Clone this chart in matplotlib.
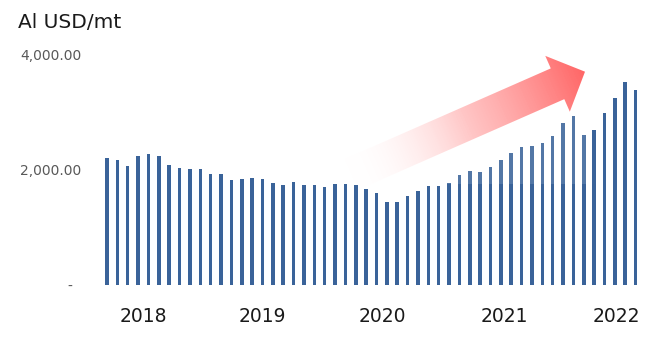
import numpy as np
import matplotlib
matplotlib.use('Agg')
import matplotlib.pyplot as plt
from matplotlib.colors import LinearSegmentedColormap
from matplotlib.patches import Polygon, Rectangle

# monthly aluminium price, Jan 2018 .. Apr 2022 (USD/mt)
prices = [2198, 2169, 2058, 2232, 2273, 2227, 2083, 2023, 2006, 2013, 1925, 1919,
          1826, 1843, 1855, 1832, 1763, 1740, 1780, 1733, 1733, 1705, 1757, 1757,
          1727, 1670, 1594, 1444, 1444, 1548, 1623, 1716, 1716, 1769, 1902, 1980,
          1960, 2040, 2157, 2290, 2395, 2406, 2465, 2580, 2813, 2922, 2603, 2679,
          2987, 3236, 3513, 3375]
year_labels = ['2018', '2019', '2020', '2021', '2022']
year_pos = [3.5, 15.0, 26.6, 38.3, 49.1]
y_ticks = [0, 2000, 4000]
y_labels = ['-  ', '2,000.00', '4,000.00']

W, H = 663, 339
fig = plt.figure(figsize=(W / 100, H / 100), dpi=100)

# axes placed in pixel terms
x0, x1 = -1, 52
px_left = 107.0 - 10.365
px_right = 107.0 + 10.365 * 52
ax = fig.add_axes([px_left / W, (H - 285) / H, (px_right - px_left) / W, 231 / H])
ax.bar(np.arange(len(prices)), prices, width=0.34, color='#3a6399', zorder=2)
ax.set_xlim(x0, x1)
ax.set_ylim(0, 4000)
ax.set_yticks(y_ticks)
ax.set_yticklabels(y_labels)
ax.set_xticks(year_pos)
ax.set_xticklabels(year_labels)
ax.tick_params(axis='y', length=0, pad=11, labelsize=10, labelcolor='#595959')
ax.tick_params(axis='x', length=0, pad=16, labelsize=13.5, labelcolor='#1a1a1a')
for s in ax.spines.values():
    s.set_visible(False)

fig.text(18 / W, 1 - 22 / H, 'Al USD/mt', fontsize=14.5, color='#1a1a1a',
         ha='left', va='center')

# overlay in pixel coords for the trend arrow
ov = fig.add_axes([0, 0, 1, 1], zorder=5)
ov.set_xlim(0, W)
ov.set_ylim(H, 0)
ov.axis('off')

ov.add_patch(Rectangle((350, 45), 236, 139, facecolor='white', alpha=0.13, lw=0))

tip = np.array([585.0, 71.7])
tail = np.array([350.0, 175.0])
d = tip - tail
L = np.hypot(*d)
u = d / L
n = np.array([u[1], -u[0]])
if n[1] < 0:
    n = -n
shaft_hw, head_hw, head_len = 16.8, 30.5, 30.0
base = tip - u * head_len
verts = [tail + n * shaft_hw, base + n * shaft_hw, base + n * head_hw, tip,
         base - n * head_hw, base - n * shaft_hw, tail - n * shaft_hw]
poly = Polygon(verts, closed=True, facecolor='none', edgecolor='none')
ov.add_patch(poly)

gx, gy = np.meshgrid(np.arange(300, 600), np.arange(30, 220))
t = ((gx - tail[0]) * u[0] + (gy - tail[1]) * u[1]) / L
t = np.clip(t, 0, 1)
cmap = LinearSegmentedColormap.from_list(
    'fade', [(1, 1, 1, 0), (1, 0.72, 0.72, 0.8), (1, 0.4, 0.4, 1)])
im = ov.imshow(t, extent=(300, 600, 220, 30), cmap=cmap, vmin=0, vmax=1,
               interpolation='bilinear', aspect='auto', zorder=6)
im.set_clip_path(poly)

fig.savefig('out.png', dpi=100)
